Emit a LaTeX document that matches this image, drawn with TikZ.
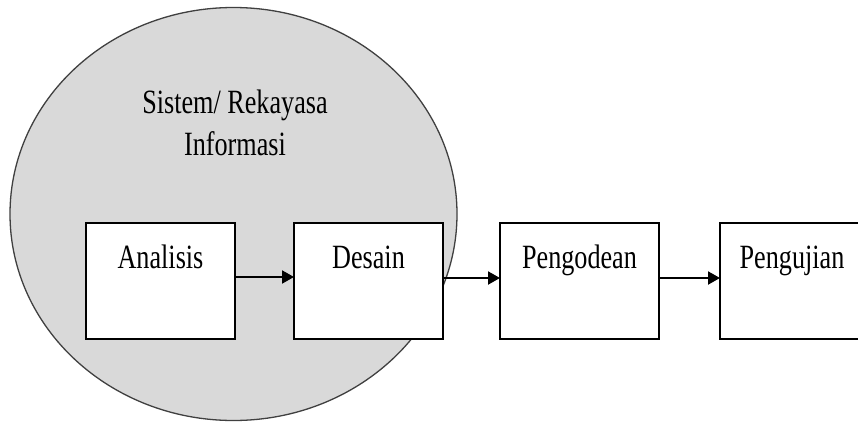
\documentclass[tikz,border=0pt]{standalone}
\usepackage{fontspec}
\setmainfont[FakeStretch=0.77]{Liberation Serif}
\usetikzlibrary{arrows.meta,calc,shapes.geometric}
\tikzset{
  boxnode/.style={draw=black,line width=1.6pt,fill=white,minimum height=116pt,inner sep=0pt,outer sep=0pt},
  lbl/.style={inner sep=0pt,anchor=base,font=\fontsize{34}{40}\selectfont},
  arr/.style={line width=2pt,-{Triangle[length=12pt,width=13pt]}},
}
\begin{document}
\begin{tikzpicture}[x=1pt,y=-1pt]
\useasboundingbox (0,0) rectangle (858,423);
\clip (0,0) rectangle (858,423);
\fill[white] (0,0) rectangle (858,423);
\node[draw=black!75,line width=1.3pt,fill=black!15,ellipse,minimum width=447pt,minimum height=413pt,inner sep=0pt] (ell) at (233.5,214) {};
\node[lbl] (t1) at (235,113) {Sistem/ Rekayasa};
\node[lbl] (t2) at (235,155) {Informasi};
\node[boxnode,minimum width=149pt] (a) at (160.5,281) {};
\node[boxnode,minimum width=149pt] (d) at (368.5,281) {};
\node[boxnode,minimum width=159pt] (p) at (579.5,281) {};
\node[boxnode,minimum width=150pt] (u) at (795,281) {};
\node[lbl] at ($(a.north)+(0,45)$) {Analisis};
\node[lbl] at ($(d.north)+(0,45)$) {Desain};
\node[lbl] at ($(p.north)+(0,45)$) {Pengodean};
\node[lbl] at ($(u.north)+(-3,45)$) {Pengujian};
\draw[arr] ($(a.east)+(0,-4)$) -- ($(d.west)+(0,-4)$);
\draw[arr] ($(d.east)+(-1,-3)$) -- ($(p.west)+(0,-3)$);
\draw[arr] ($(p.east)+(0,-3)$) -- ($(u.west)+(0,-3)$);
\end{tikzpicture}
\end{document}
